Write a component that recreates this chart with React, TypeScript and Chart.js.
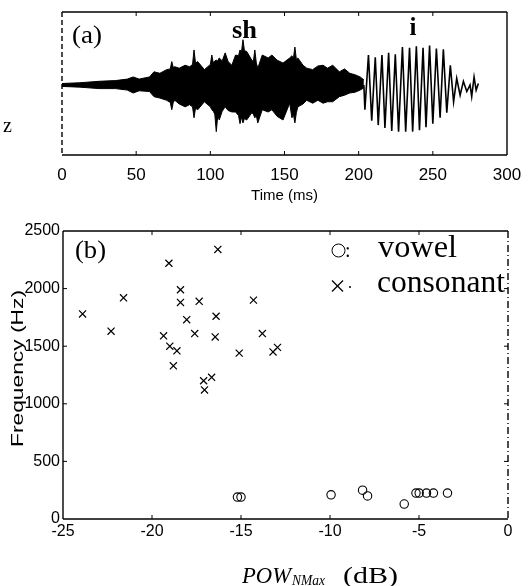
import React, { useEffect, useRef } from "react";
import { Chart, registerables } from "chart.js";

Chart.register(...registerables);

// ---------- Panel (a): waveform of "shi" ----------
// Noise ("sh") part: upper / lower envelope of the signal, time in ms
const NOISE_T = [0, 12, 25, 36, 44, 48, 52, 59, 62, 66, 70.5, 73, 74, 75, 76, 79, 83, 86, 88, 89, 90, 91.5, 96, 100, 101, 102, 103, 104, 105, 106, 108, 110, 112, 114.5, 117, 119, 120, 121, 122, 123, 124.5, 128, 129, 130, 131, 132, 135, 139, 141.5, 145, 149, 153.5, 155, 156, 157, 158, 159, 162.5, 165, 169, 172.5, 176, 179, 182.5, 187, 190.5, 194, 197.5, 201, 203.5];
const NOISE_HI = [0.02, 0.03, 0.05, 0.06, 0.08, 0.11, 0.08, 0.11, 0.18, 0.16, 0.21, 0.22, 0.32, 0.24, 0.25, 0.23, 0.27, 0.25, 0.28, 0.48, 0.30, 0.32, 0.21, 0.28, 0.41, 0.30, 0.33, 0.34, 0.33, 0.37, 0.33, 0.44, 0.32, 0.27, 0.41, 0.40, 0.48, 0.45, 0.62, 0.47, 0.46, 0.34, 0.32, 0.48, 0.30, 0.23, 0.41, 0.37, 0.41, 0.34, 0.30, 0.37, 0.40, 0.36, 0.52, 0.35, 0.37, 0.27, 0.23, 0.21, 0.26, 0.27, 0.23, 0.27, 0.18, 0.22, 0.16, 0.14, 0.11, 0.07];
const NOISE_LO = [-0.02, -0.03, -0.05, -0.05, -0.07, -0.11, -0.08, -0.09, -0.16, -0.18, -0.21, -0.24, -0.34, -0.24, -0.21, -0.26, -0.30, -0.27, -0.30, -0.45, -0.32, -0.34, -0.23, -0.30, -0.34, -0.36, -0.40, -0.64, -0.42, -0.48, -0.36, -0.30, -0.35, -0.37, -0.37, -0.42, -0.53, -0.44, -0.52, -0.46, -0.48, -0.38, -0.40, -0.45, -0.42, -0.52, -0.34, -0.37, -0.34, -0.43, -0.48, -0.25, -0.45, -0.40, -0.52, -0.38, -0.30, -0.26, -0.21, -0.25, -0.21, -0.25, -0.23, -0.23, -0.16, -0.14, -0.11, -0.10, -0.07, -0.04];
// Vowel ("i") part: periodic oscillation
const VOWEL_T = [203.5, 204.2, 206.6, 208.8, 211.2, 213.2, 215.7, 217.7, 220.2, 222.3, 224.7, 226.9, 229.5, 231.7, 234.3, 236.4, 238.9, 241.0, 243.4, 245.4, 247.8, 250.0, 252.4, 254.9, 257.1, 259.4, 261.8, 264.0, 266.1, 268.4, 270.6, 272.9, 275.1, 276.2, 277.8, 279.2, 280.7];
const VOWEL_A = [0.0, -0.34, 0.41, -0.49, 0.38, -0.55, 0.41, -0.59, 0.44, -0.63, 0.42, -0.64, 0.52, -0.64, 0.51, -0.64, 0.53, -0.62, 0.51, -0.58, 0.54, -0.53, 0.50, -0.45, 0.49, -0.38, 0.27, -0.23, 0.09, -0.14, 0.05, -0.09, 0.0, -0.16, 0.11, -0.07, 0.02];
const TIME_TICKS = [0, 50, 100, 150, 200, 250, 300];

// ---------- Panel (b): POW_NMax vs frequency ----------
const CONS_DB = [-23.9, -22.3, -21.6, -19.05, -18.4, -18.4, -19.35, -19.0, -18.6, -18.8, -18.05, -17.35, -17.6, -17.1, -17.05, -16.65, -16.3, -16.4, -16.45, -15.1, -14.3, -13.8, -13.2, -12.95];
const CONS_HZ = [1780, 1630, 1920, 2220, 1990, 1880, 1590, 1500, 1460, 1330, 1730, 1890, 1610, 1200, 1120, 1230, 2340, 1760, 1580, 1440, 1900, 1610, 1450, 1490];
const VOW_DB = [-15.2, -15.0, -9.94, -8.17, -7.89, -5.83, -5.17, -4.99, -4.58, -4.19, -3.4];
const VOW_HZ = [190, 190, 210, 250, 200, 130, 225, 225, 225, 225, 225];
const DB_TICKS = [-25, -20, -15, -10, -5, 0];
const HZ_TICKS = [0, 500, 1000, 1500, 2000, 2500];

const SANS = "'Liberation Sans', Arial, sans-serif";
const NARROW = "'Liberation Sans Narrow', 'Liberation Sans', Arial, sans-serif";
const SERIF = "'Liberation Serif', 'Times New Roman', serif";

function drawText(
  ctx: CanvasRenderingContext2D,
  text: string,
  x: number,
  y: number,
  font: string,
  align: CanvasTextAlign = "left",
  width?: number,
  baseline: CanvasTextBaseline = "alphabetic",
  rotate = 0
) {
  ctx.save();
  ctx.font = font;
  ctx.fillStyle = "#000";
  ctx.textAlign = align;
  ctx.textBaseline = baseline;
  const w = ctx.measureText(text).width;
  const sx = width ? width / w : 1;
  ctx.translate(x, y);
  if (rotate) ctx.rotate(rotate);
  ctx.scale(sx, 1);
  ctx.fillText(text, 0, 0);
  ctx.restore();
}

function seg(ctx: CanvasRenderingContext2D, x1: number, y1: number, x2: number, y2: number) {
  ctx.beginPath();
  ctx.moveTo(x1, y1);
  ctx.lineTo(x2, y2);
  ctx.stroke();
}

function framePlugin(id: string, xTicks: number[], yTicks: number[], dashLeft: boolean, dashRight: boolean) {
  return {
    id,
    afterDatasetsDraw(chart: any) {
      const { ctx, chartArea, scales } = chart;
      const { left, right, top, bottom } = chartArea;
      ctx.save();
      ctx.strokeStyle = "#000";
      ctx.lineWidth = 1.4;
      seg(ctx, left, top, right, top);
      seg(ctx, left, bottom, right, bottom);
      ctx.setLineDash(dashLeft ? [5, 3] : []);
      seg(ctx, left, top, left, bottom);
      ctx.setLineDash(dashRight ? [7, 3, 1, 3] : []);
      seg(ctx, right, top, right, bottom);
      ctx.setLineDash([]);
      ctx.lineWidth = 1;
      for (const v of xTicks) {
        const px = scales.x.getPixelForValue(v);
        if (px <= left + 1 || px >= right - 1) continue;
        seg(ctx, px, top, px, top + 4);
        seg(ctx, px, bottom, px, bottom - 4);
      }
      for (const v of yTicks) {
        const py = scales.y.getPixelForValue(v);
        if (py <= top + 1 || py >= bottom - 1) continue;
        seg(ctx, left, py, left + 4, py);
        seg(ctx, right, py, right - 4, py);
      }
      ctx.restore();
    },
  };
}

const textA = {
  id: "textA",
  afterDraw(chart: any) {
    const ctx = chart.ctx as CanvasRenderingContext2D;
    drawText(ctx, "(a)", 72, 43, `25px ${SERIF}`, "left", 30);
    drawText(ctx, "sh", 232, 38, `bold 25px ${SERIF}`, "left", 25);
    drawText(ctx, "i", 413, 35, `bold 25px ${SERIF}`, "center");
    drawText(ctx, "z", 3, 132, `20px ${SERIF}`, "left");
  },
};

const textB = {
  id: "textB",
  afterDraw(chart: any) {
    const ctx = chart.ctx as CanvasRenderingContext2D;
    drawText(ctx, "(b)", 75, 53, `25px ${SERIF}`, "left", 31);
    // legend
    ctx.save();
    ctx.strokeStyle = "#000";
    ctx.lineWidth = 1;
    ctx.beginPath();
    ctx.arc(338.5, 45.5, 6.5, 0, Math.PI * 2);
    ctx.stroke();
    ctx.lineWidth = 1.2;
    seg(ctx, 332, 75.5, 343, 86.5);
    seg(ctx, 343, 75.5, 332, 86.5);
    ctx.fillStyle = "#000";
    ctx.beginPath();
    ctx.arc(350, 82, 1, 0, Math.PI * 2);
    ctx.fill();
    ctx.restore();
    drawText(ctx, ":", 345, 52, `20px ${SERIF}`, "left");
    drawText(ctx, "vowel", 378, 52, `31px ${SERIF}`, "left", 79);
    drawText(ctx, "consonant", 377, 87, `31px ${SERIF}`, "left", 128);
    // axis titles
    drawText(ctx, "Frequency (Hz)", 19, 163.5, `16px ${SANS}`, "center", 157, "middle", -Math.PI / 2);
    drawText(ctx, "POW", 242, 378, `italic 24px ${SERIF}`, "left", 49);
    drawText(ctx, "NMax", 292, 380, `italic 14px ${SERIF}`, "left", 33);
    drawText(ctx, "(dB)", 343, 378, `24px ${SERIF}`, "left", 55);
  },
};

const plain = (v: any) => String(v);

export default function App() {
  const refA = useRef<HTMLCanvasElement>(null);
  const refB = useRef<HTMLCanvasElement>(null);

  useEffect(() => {
    const chartA = new Chart(refA.current as HTMLCanvasElement, {
      type: "line",
      data: {
        datasets: [
          {
            data: NOISE_T.map((t, i) => ({ x: t, y: NOISE_HI[i] })),
            borderColor: "#000",
            backgroundColor: "#000",
            borderWidth: 1,
            pointRadius: 0,
            fill: "+1",
            tension: 0,
          },
          {
            data: NOISE_T.map((t, i) => ({ x: t, y: NOISE_LO[i] })),
            borderColor: "#000",
            borderWidth: 1,
            pointRadius: 0,
            fill: false,
            tension: 0,
          },
          {
            data: VOWEL_T.map((t, i) => ({ x: t, y: VOWEL_A[i] })),
            borderColor: "#000",
            borderWidth: 1.6,
            pointRadius: 0,
            fill: false,
            tension: 0,
          },
        ],
      },
      options: {
        responsive: false,
        maintainAspectRatio: false,
        animation: false,
        devicePixelRatio: 1,
        layout: { padding: { left: 62, right: 25, top: 12, bottom: 0 } },
        plugins: { legend: { display: false }, tooltip: { enabled: false } },
        scales: {
          x: {
            type: "linear",
            min: 0,
            max: 300,
            afterBuildTicks: (s: any) => {
              s.ticks = TIME_TICKS.map((v) => ({ value: v }));
            },
            afterFit: (s: any) => {
              s.height = 50;
            },
            grid: { display: false, drawTicks: false },
            border: { display: false },
            ticks: { color: "#000", font: { family: NARROW, size: 17 }, padding: 10, maxRotation: 0, callback: plain },
            title: { display: true, text: "Time (ms)", color: "#000", font: { family: NARROW, size: 15 }, padding: { top: 0, bottom: 0 } },
          },
          y: { display: false, min: -0.96, max: 1 },
        },
      },
      plugins: [framePlugin("frameA", TIME_TICKS, [], true, false), textA],
    } as any);

    const chartB = new Chart(refB.current as HTMLCanvasElement, {
      type: "scatter",
      data: {
        datasets: [
          {
            label: "vowel",
            data: VOW_DB.map((d, i) => ({ x: d, y: VOW_HZ[i] })),
            pointStyle: "circle",
            pointRadius: 4.2,
            borderColor: "#000",
            backgroundColor: "rgba(0,0,0,0)",
            borderWidth: 1.1,
          },
          {
            label: "consonant",
            data: CONS_DB.map((d, i) => ({ x: d, y: CONS_HZ[i] })),
            pointStyle: "crossRot",
            pointRadius: 5,
            borderColor: "#000",
            borderWidth: 1.2,
          },
        ],
      },
      options: {
        responsive: false,
        maintainAspectRatio: false,
        animation: false,
        devicePixelRatio: 1,
        layout: { padding: { left: 0, right: 24, top: 26, bottom: 0 } },
        plugins: { legend: { display: false }, tooltip: { enabled: false } },
        scales: {
          x: {
            type: "linear",
            min: -25,
            max: 0,
            afterBuildTicks: (s: any) => {
              s.ticks = DB_TICKS.map((v) => ({ value: v }));
            },
            afterFit: (s: any) => {
              s.height = 67;
            },
            grid: { display: false, drawTicks: false },
            border: { display: false },
            ticks: { color: "#000", font: { family: SANS, size: 16 }, padding: 3, maxRotation: 0, callback: plain },
          },
          y: {
            type: "linear",
            min: 0,
            max: 2500,
            afterBuildTicks: (s: any) => {
              s.ticks = HZ_TICKS.map((v) => ({ value: v }));
            },
            afterFit: (s: any) => {
              s.width = 63;
            },
            grid: { display: false, drawTicks: false },
            border: { display: false },
            ticks: { color: "#000", font: { family: SANS, size: 16 }, padding: 3, callback: plain },
          },
        },
      },
      plugins: [framePlugin("frameB", DB_TICKS, HZ_TICKS, false, true), textB],
    } as any);

    return () => {
      chartA.destroy();
      chartB.destroy();
    };
  }, []);

  return (
    <div style={{ position: "fixed", left: 0, top: 0, width: 532, height: 586, background: "#fff" }}>
      <canvas ref={refA} width={532} height={205} style={{ position: "absolute", left: 0, top: 0, width: 532, height: 205 }} />
      <canvas ref={refB} width={532} height={381} style={{ position: "absolute", left: 0, top: 205, width: 532, height: 381 }} />
    </div>
  );
}
